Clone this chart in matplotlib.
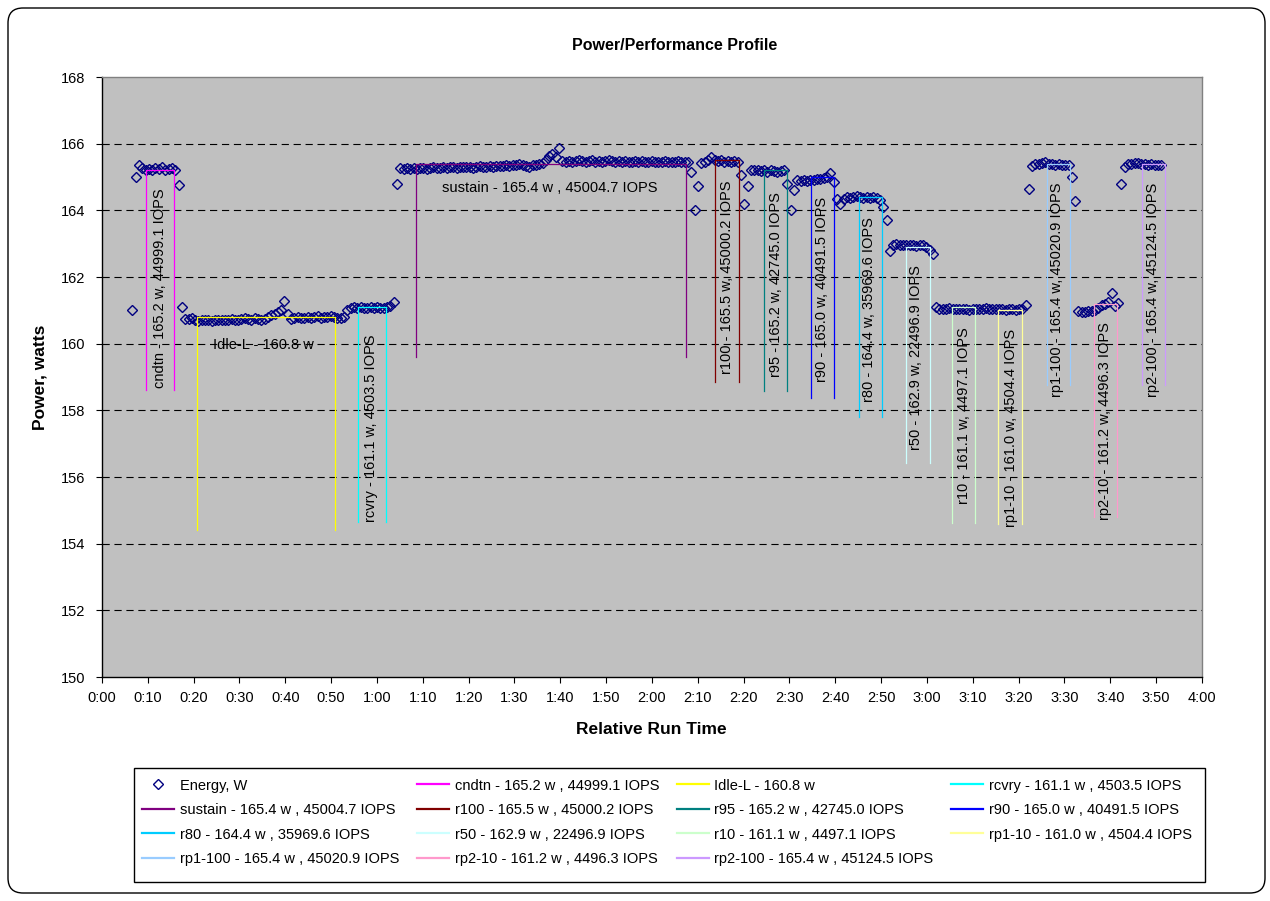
import numpy as np
import matplotlib.pyplot as plt
from matplotlib.lines import Line2D
from matplotlib.patches import FancyBboxPatch, Rectangle
from matplotlib.ticker import FixedLocator, FuncFormatter

plt.rcParams["font.family"] = ["Liberation Sans", "DejaVu Sans"]
plt.rcParams["lines.scale_dashes"] = False
FONT_SIZE = 10.5

# sample times (minutes) of first and last energy reading
FIRST_SAMPLE_MIN = 6.62
LAST_SAMPLE_MIN = 231.1

# power readings, W (one per sample, in run order)
energy_w = [
    # start / cndtn
    161.0, 165.0, 165.35,
    165.28, 165.22, 165.25, 165.2, 165.28, 165.25, 165.3, 165.22, 165.25, 165.27, 165.22,
    164.76, 161.1, 160.75,
    # Idle-L
    160.73, 160.78, 160.72, 160.68, 160.7, 160.72, 160.7, 160.68, 160.7, 160.72, 160.7, 160.7,
    160.72, 160.74, 160.7, 160.72, 160.75, 160.78, 160.74, 160.72, 160.76, 160.75, 160.72,
    160.75, 160.8, 160.85, 160.88, 160.95, 161.0, 161.29, 160.9, 160.75,
    160.78, 160.8, 160.78, 160.78, 160.8, 160.78, 160.8, 160.82, 160.78, 160.8, 160.8, 160.82,
    160.8, 160.78, 160.78, 160.8,
    # rcvry
    161.0, 161.08, 161.1,
    161.08, 161.1, 161.08, 161.08, 161.1, 161.08, 161.1, 161.08, 161.08, 161.1, 161.12,
    161.26,
    # sustain
    164.78,
    165.27, 165.25, 165.28, 165.25, 165.27, 165.24, 165.26, 165.28, 165.25, 165.27, 165.29,
    165.26, 165.28, 165.3, 165.27, 165.29, 165.3, 165.28, 165.3, 165.29, 165.31, 165.3,
    165.28, 165.3, 165.32, 165.3, 165.31, 165.33, 165.3, 165.32, 165.34, 165.32, 165.35,
    165.33, 165.36, 165.35, 165.38, 165.36,
    165.33, 165.3, 165.35, 165.37, 165.38,
    165.42, 165.52, 165.62, 165.68, 165.6, 165.88,
    165.48, 165.45, 165.47, 165.45, 165.48, 165.5, 165.47, 165.45, 165.48, 165.5, 165.46,
    165.48, 165.45, 165.47, 165.5, 165.48, 165.45, 165.47, 165.45, 165.48, 165.46, 165.45,
    165.47, 165.45, 165.48, 165.46, 165.45, 165.47, 165.45, 165.46, 165.45, 165.47, 165.45,
    165.46, 165.45, 165.47, 165.45, 165.46, 165.45,
    # r100
    165.14, 164.0, 164.74,
    165.42, 165.45, 165.52, 165.6, 165.5, 165.48, 165.5, 165.46, 165.48, 165.45, 165.47, 165.45,
    # r95
    165.05, 164.2, 164.73,
    165.22, 165.2, 165.22, 165.18, 165.2, 165.16, 165.2, 165.18, 165.15, 165.18, 165.2,
    # r90
    164.8, 164.0, 164.62,
    164.9, 164.88, 164.92, 164.88, 164.9, 164.92, 164.95, 164.93, 164.97, 165.0, 165.13, 164.85,
    # r80
    164.33, 164.2, 164.35,
    164.4, 164.38, 164.4, 164.42, 164.4, 164.38, 164.4, 164.38, 164.4, 164.36,
    164.3, 164.1, 163.71,
    # r50
    162.78,
    162.95, 162.98, 162.96, 162.95, 162.97, 162.95, 162.96, 162.93, 162.95, 162.97,
    162.9, 162.8, 162.7,
    # r10 / rp1-10
    161.1,
    161.05, 161.03, 161.05, 161.06, 161.04, 161.05, 161.03, 161.05, 161.04, 161.02, 161.04,
    161.05, 161.03, 161.05, 161.06, 161.04, 161.03, 161.05, 161.04, 161.03, 161.02, 161.04,
    161.03, 161.02, 161.04, 161.03,
    161.15,
    # rp1-100
    164.65,
    165.33, 165.38, 165.4, 165.42, 165.45, 165.4, 165.38, 165.36, 165.38, 165.35, 165.36, 165.35,
    165.0, 164.28,
    # rp2-10
    160.97, 160.95, 160.96, 160.97, 160.98, 161.0, 161.08, 161.15, 161.2, 161.26, 161.53,
    161.12, 161.22,
    # rp2-100
    164.8,
    165.3, 165.38, 165.4, 165.42, 165.43, 165.4, 165.38, 165.36, 165.38, 165.35, 165.35, 165.36,
]

phase_names = ["cndtn", "Idle-L", "rcvry", "sustain", "r100", "r95", "r90", "r80",
               "r50", "r10", "rp1-10", "rp1-100", "rp2-10", "rp2-100"]
phase_start = [9.6, 20.7, 55.85, 68.5, 133.8, 144.5, 154.8, 165.2,
               175.4, 185.4, 195.6, 206.1, 216.4, 226.9]
phase_end = [15.7, 50.9, 61.9, 127.5, 139.1, 149.4, 159.8, 170.2,
             180.6, 190.5, 200.7, 211.3, 221.5, 232.0]
phase_watts = [165.2, 160.8, 161.1, 165.4, 165.5, 165.2, 165.0, 164.4,
               162.9, 161.1, 161.0, 165.4, 161.2, 165.4]
phase_floor = [158.6, 154.4, 154.65, 159.6, 158.84, 158.59, 158.38, 157.79,
               156.41, 154.61, 154.6, 158.76, 154.79, 158.76]
phase_iops = ["44999.1", None, "4503.5", "45004.7", "45000.2", "42745.0", "40491.5",
              "35969.6", "22496.9", "4497.1", "4504.4", "45020.9", "4496.3", "45124.5"]

PHASE_COLORS = ["#FF00FF", "#FFFF00", "#00FFFF", "#800080", "#800000", "#008080", "#0000FF",
                "#00CCFF", "#CCFFFF", "#CCFFCC", "#FFFF99", "#99CCFF", "#FF99CC", "#CC99FF"]

# where each phase label sits: (minutes, watts, rotation)
LABEL_POS = [(12.7, 158.67, 90), (24.2, 159.96, 0), (58.8, 154.65, 90), (97.8, 164.66, 0),
             (136.4, 159.1, 90), (147.0, 159.0, 90), (157.2, 158.86, 90), (167.4, 158.26, 90),
             (177.6, 156.81, 90), (188.1, 155.2, 90), (198.3, 154.5, 90), (208.4, 158.4, 90),
             (218.9, 154.72, 90), (229.4, 158.4, 90)]

MARKER = dict(linestyle="none", marker="D", markersize=5.0, markerfacecolor="none",
              markeredgecolor="#000080", markeredgewidth=1.0)


def fmt_time(v, pos=None):
    v = int(round(v))
    return f"{v // 60}:{v % 60:02d}"


fig = plt.figure(figsize=(12.7, 9.01), dpi=100)
ax = fig.add_axes([0.0803, 0.2486, 0.8661, 0.6659])
ax.set_facecolor("#C0C0C0")

times = np.linspace(FIRST_SAMPLE_MIN, LAST_SAMPLE_MIN, len(energy_w))
ax.plot(times, energy_w, zorder=3, **MARKER)

handles = [Line2D([], [], **MARKER)]
labels = ["Energy, W"]

for i, name in enumerate(phase_names):
    x0, x1 = phase_start[i], phase_end[i]
    lvl, bot = phase_watts[i], phase_floor[i]
    ax.plot([x0, x0, x1, x1], [bot, lvl, lvl, bot], color=PHASE_COLORS[i], lw=0.9, zorder=4)

    if phase_iops[i] is None:
        txt = f"{name} - {lvl:.1f} w"
        leg = txt
    elif name == "sustain":
        txt = f"{name} - {lvl:.1f} w , {phase_iops[i]} IOPS"
        leg = txt
    else:
        txt = f"{name} - {lvl:.1f} w, {phase_iops[i]} IOPS"
        leg = f"{name} - {lvl:.1f} w , {phase_iops[i]} IOPS"

    lx, ly, rot = LABEL_POS[i]
    if rot == 90:
        ax.text(lx, ly, txt, rotation=90, ha="center", va="bottom",
                fontsize=FONT_SIZE, color="black", zorder=5)
    elif name == "sustain":
        ax.text(lx, ly, txt, ha="center", va="center", fontsize=FONT_SIZE, zorder=5)
    else:
        ax.text(lx, ly, txt, ha="left", va="center", fontsize=FONT_SIZE, zorder=5)

    handles.append(Line2D([], [], color=PHASE_COLORS[i], lw=1.6))
    labels.append(leg)

# grid
y_ticks = list(range(150, 169, 2))
for y in y_ticks[1:-1]:
    ax.axhline(y, color="black", lw=0.8, linestyle=(0, (5.2, 3.4)), zorder=1)

ax.set_xlim(0, 240)
ax.set_ylim(150, 168)
ax.xaxis.set_major_locator(FixedLocator(range(0, 241, 10)))
ax.xaxis.set_major_formatter(FuncFormatter(fmt_time))
ax.yaxis.set_major_locator(FixedLocator(y_ticks))
ax.tick_params(axis="both", direction="out", length=4, width=0.8, labelsize=FONT_SIZE)
ax.tick_params(axis="y", pad=8)
ax.tick_params(axis="x", pad=6)

for side in ["left", "bottom"]:
    ax.spines[side].set_color("black")
    ax.spines[side].set_linewidth(1.0)
for side in ["top", "right"]:
    ax.spines[side].set_color("#808080")
    ax.spines[side].set_linewidth(1.0)

fig.text(0.5315, 0.949, "Power/Performance Profile", ha="center", va="center",
         fontsize=FONT_SIZE + 1, fontweight="bold")
fig.text(0.513, 0.19, "Relative Run Time", ha="center", va="center",
         fontsize=FONT_SIZE + 2, fontweight="bold")
fig.text(0.0315, 0.5816, "Power, watts", ha="center", va="center", rotation=90,
         fontsize=FONT_SIZE + 2, fontweight="bold")

# legend is filled column-wise; reorder to read row-wise like the original
ncol = 4
nrow = int(np.ceil(len(handles) / ncol))
order = [r * ncol + c for c in range(ncol) for r in range(nrow) if r * ncol + c < len(handles)]
legend = fig.legend(
    [handles[k] for k in order],
    [labels[k] for k in order],
    ncol=ncol,
    loc="upper left",
    bbox_to_anchor=(0.1035, 0.1476, 0.8433, 0.0),
    mode="expand",
    frameon=False,
    fontsize=FONT_SIZE,
    handlelength=2.2,
    handletextpad=0.4,
    borderaxespad=0,
    labelspacing=0.72,
    borderpad=0.72,
    columnspacing=0.5,
)

fig.patches.append(Rectangle((0.1055, 0.0211), 0.8433, 0.1265, transform=fig.transFigure,
                             fill=False, edgecolor="black", linewidth=1.0))
fig.patches.append(FancyBboxPatch(
    (0.08, 0.08), 12.57, 8.85,
    boxstyle="round,pad=0,rounding_size=0.15",
    transform=fig.dpi_scale_trans, fill=False, edgecolor="black", linewidth=1.0,
))

plt.savefig("out.png", dpi=100)
